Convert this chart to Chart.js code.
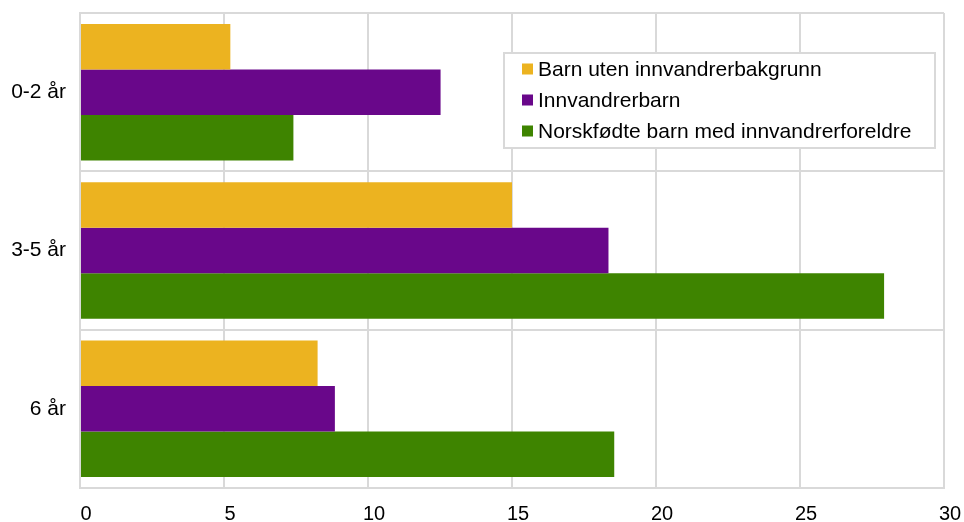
<!DOCTYPE html>
<html>
<head>
<meta charset="utf-8">
<script src="https://cdn.jsdelivr.net/npm/chart.js@4.4.1/dist/chart.umd.min.js"></script>
<style>
  html, body { margin: 0; padding: 0; background: #fff; }
  #wrap { width: 964px; height: 522px; }
</style>
</head>
<body>
<div id="wrap"><canvas id="grafikk"></canvas></div>
<script>
// kategorier og serier lest av bildet
const kategorier = ['0-2 år', '3-5 år', '6 år'];
const serieNavn = ['Barn uten innvandrerbakgrunn', 'Innvandrerbarn', 'Norskfødte barn med innvandrerforeldre'];
const barnUten = [5.22, 15.0, 8.25];
const innvandrerbarn = [12.52, 18.35, 8.85];
const norskfodte = [7.41, 27.92, 18.55];
const xMin = 0, xMax = 30, xSteg = 5;

const farger = ['#ecb320', '#69078a', '#3e8400'];
const rutenett = '#d9d9d9';
const skrift = '"Liberation Sans", Arial, sans-serif';

// legende inne i plottet, med ramme
const boksLegende = {
  id: 'boksLegende',
  afterDraw(chart) {
    const ctx = chart.ctx;
    const a = chart.chartArea;
    const w = 431, h = 95;
    const x = a.right - 9 - w;
    const y = a.top + 40;
    ctx.save();
    ctx.fillStyle = '#fff';
    ctx.fillRect(x, y, w, h);
    ctx.strokeStyle = rutenett;
    ctx.lineWidth = 2;
    ctx.strokeRect(x, y, w, h);
    ctx.font = '21px ' + skrift;
    ctx.textBaseline = 'middle';
    chart.data.datasets.forEach(function(ds, i) {
      const cy = y + 16 + i * 31;
      ctx.fillStyle = ds.backgroundColor;
      ctx.fillRect(x + 18, cy - 5.5, 11, 11);
      ctx.fillStyle = '#000';
      ctx.fillText(ds.label, x + 34, cy + 1);
    });
    ctx.restore();
  }
};

// fjern automatisk luft rundt aksene, plottet skal ligge fast
function nullPadding(scale) {
  scale.paddingTop = 0;
  scale.paddingBottom = 0;
  scale.paddingLeft = 0;
  scale.paddingRight = 0;
}

const ctx = document.getElementById('grafikk').getContext('2d');
new Chart(ctx, {
  type: 'bar',
  data: {
    labels: kategorier,
    datasets: [
      { label: serieNavn[0], data: barnUten, backgroundColor: farger[0] },
      { label: serieNavn[1], data: innvandrerbarn, backgroundColor: farger[1] },
      { label: serieNavn[2], data: norskfodte, backgroundColor: farger[2] }
    ]
  },
  options: {
    indexAxis: 'y',
    responsive: true,
    maintainAspectRatio: false,
    animation: false,
    categoryPercentage: 0.862,
    barPercentage: 1.0,
    layout: { padding: { top: 13, right: 20, left: 0, bottom: 0 } },
    plugins: {
      legend: { display: false },
      tooltip: { enabled: false }
    },
    scales: {
      x: {
        min: xMin,
        max: xMax,
        ticks: {
          stepSize: xSteg,
          color: '#000',
          padding: 14,
          labelOffset: 6,
          font: { family: skrift, size: 20 }
        },
        grid: { color: rutenett, lineWidth: 2, drawTicks: false },
        border: { color: rutenett, width: 2 },
        afterFit: function(scale) { scale.height = 34; nullPadding(scale); }
      },
      y: {
        ticks: {
          color: '#000',
          padding: 14,
          font: { family: skrift, size: 21 }
        },
        grid: { color: rutenett, lineWidth: 2, drawTicks: false, offset: true },
        border: { color: rutenett, width: 2 },
        afterFit: function(scale) { scale.width = 80; nullPadding(scale); }
      }
    }
  },
  plugins: [boksLegende]
});
</script>
</body>
</html>
